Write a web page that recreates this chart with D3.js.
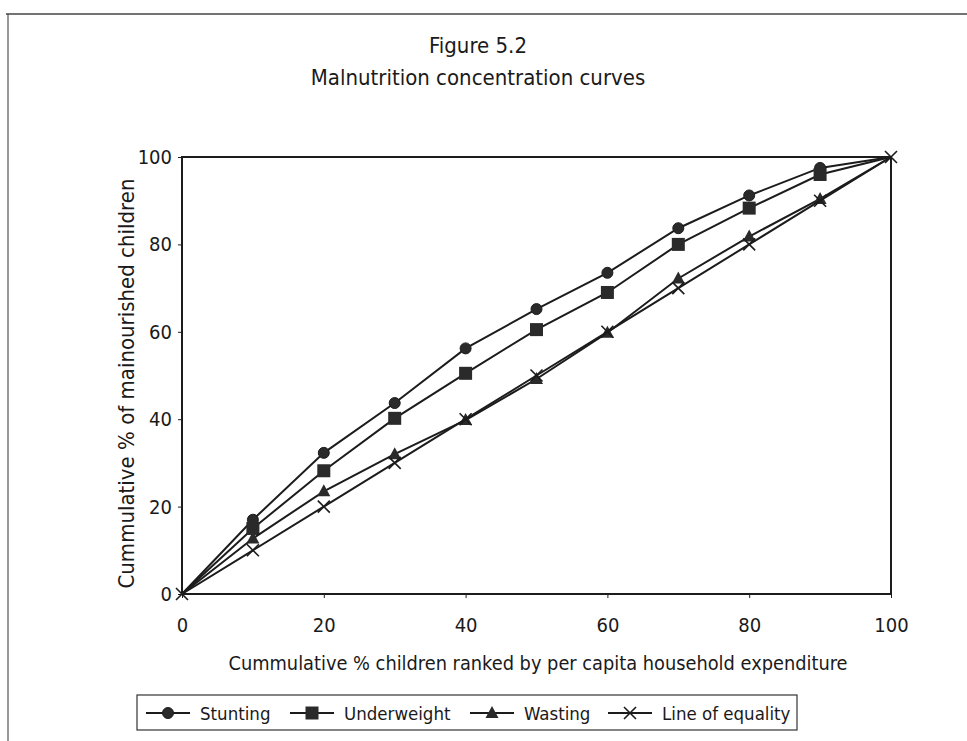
<!DOCTYPE html>
<html>
<head>
<meta charset="utf-8">
<script src="https://cdn.jsdelivr.net/npm/d3@7"></script>
<style>
  html, body { margin: 0; padding: 0; background: #fff; }
  svg { display: block; }
  text { font-family: "DejaVu Sans Condensed", "DejaVu Sans", sans-serif; fill: #1a1a1a; }
</style>
</head>
<body>
<svg id="chart" width="967" height="741"></svg>
<script>
// Cumulative % of children ranked by per capita household expenditure
const xValues = [0, 10, 20, 30, 40, 50, 60, 70, 80, 90, 100];
// Cumulative % of malnourished children
const stunting    = [0, 17, 32.3, 43.7, 56.2, 65.2, 73.5, 83.7, 91.2, 97.5, 100];
const underweight = [0, 15, 28.2, 40.2, 50.5, 60.5, 69, 80, 88.3, 96, 100];
const wasting     = [0, 12.7, 23.5, 32, 39.8, 49.2, 59.8, 72.2, 81.8, 90.4, 100];
const equality    = [0, 10, 20, 30, 40, 50, 60, 70, 80, 90, 100];

const seriesNames = ["Stunting", "Underweight", "Wasting", "Line of equality"];
const seriesSymbols = ["circle", "square", "triangle", "cross"];
const xTicks = [0, 20, 40, 60, 80, 100];
const yTicks = [0, 20, 40, 60, 80, 100];

const titleLines = ["Figure 5.2", "Malnutrition concentration curves"];
const xTitle = "Cummulative % children ranked by per capita household expenditure";
const yTitle = "Cummulative % of mainourished children";

const series = [stunting, underweight, wasting, equality].map((vals, i) => ({
  name: seriesNames[i],
  symbol: seriesSymbols[i],
  points: vals.map((v, j) => ({ x: xValues[j], y: v }))
}));

const svg = d3.select("#chart");
const ink = "#1c1c1c";

// outer frame (left and top edges)
svg.append("line").attr("x1", 8).attr("y1", 14).attr("x2", 8).attr("y2", 741)
  .attr("stroke", "#555").attr("stroke-width", 1.2);
svg.append("line").attr("x1", 6).attr("y1", 14).attr("x2", 967).attr("y2", 14)
  .attr("stroke", "#444").attr("stroke-width", 1.4);

const plot = { left: 182, right: 891, top: 157, bottom: 594 };
const x = d3.scaleLinear().domain([0, 100]).range([plot.left, plot.right]);
const y = d3.scaleLinear().domain([0, 100]).range([plot.bottom, plot.top]);

// titles
svg.append("g").selectAll("text").data(titleLines).join("text")
  .attr("x", 478).attr("y", (d, i) => 53 + i * 32)
  .attr("text-anchor", "middle").attr("font-size", 22)
  .text(d => d);

// axes
const xAxis = svg.append("g").attr("transform", `translate(0,${plot.bottom})`)
  .call(d3.axisBottom(x).tickValues(xTicks).tickSize(4).tickPadding(20).tickFormat(d3.format("d")));
const yAxis = svg.append("g").attr("transform", `translate(${plot.left},0)`)
  .call(d3.axisLeft(y).tickValues(yTicks).tickSize(4).tickPadding(6).tickFormat(d3.format("d")));
[xAxis, yAxis].forEach(g => {
  g.select(".domain").remove();
  g.selectAll(".tick line").attr("stroke", ink).attr("stroke-width", 1);
  g.selectAll(".tick text").attr("font-size", 20)
    .style("font-family", '"DejaVu Sans Condensed", "DejaVu Sans", sans-serif').attr("fill", ink);
});

// plot frame
svg.append("rect")
  .attr("x", plot.left).attr("y", plot.top)
  .attr("width", plot.right - plot.left).attr("height", plot.bottom - plot.top)
  .attr("fill", "none").attr("stroke", ink).attr("stroke-width", 2);

// axis titles
svg.append("text").attr("x", 538).attr("y", 670)
  .attr("text-anchor", "middle").attr("font-size", 19.8).text(xTitle);
svg.append("text")
  .attr("transform", `translate(134,${(plot.top + plot.bottom) / 2 + 8}) rotate(-90)`)
  .attr("text-anchor", "middle").attr("font-size", 22).text(yTitle);

// marker drawing
function drawMarker(g, symbol, cx, cy) {
  if (symbol === "circle") {
    g.append("circle").attr("cx", cx).attr("cy", cy).attr("r", 5.5)
      .attr("fill", "#2a2a2a").attr("stroke", ink).attr("stroke-width", 1);
  } else if (symbol === "square") {
    g.append("rect").attr("x", cx - 6.5).attr("y", cy - 6.5).attr("width", 13).attr("height", 13)
      .attr("fill", "#2a2a2a");
  } else if (symbol === "triangle") {
    g.append("path")
      .attr("d", `M${cx},${cy - 7}L${cx + 6.5},${cy + 5}L${cx - 6.5},${cy + 5}Z`)
      .attr("fill", "#2a2a2a");
  } else {
    g.append("path")
      .attr("d", `M${cx - 6},${cy - 6}L${cx + 6},${cy + 6}M${cx + 6},${cy - 6}L${cx - 6},${cy + 6}`)
      .attr("stroke", ink).attr("stroke-width", 1.6).attr("fill", "none");
  }
}

const line = d3.line().x(d => x(d.x)).y(d => y(d.y));

// series drawn in order, so the line of equality sits on top;
// the shared end points (0,0) and (100,100) carry only the equality cross
series.forEach(s => {
  const g = svg.append("g");
  g.append("path").attr("d", line(s.points))
    .attr("fill", "none").attr("stroke", ink).attr("stroke-width", 2);
  s.points
    .filter(p => s.symbol === "cross" || (p.x > 0 && p.x < 100))
    .forEach(p => drawMarker(g, s.symbol, x(p.x), y(p.y)));
});

// legend
const legend = svg.append("g");
legend.append("rect").attr("x", 137).attr("y", 695).attr("width", 660).attr("height", 35)
  .attr("fill", "#fff").attr("stroke", "#333").attr("stroke-width", 1.2);
const legendX = [146, 290, 470, 608];
series.forEach((s, i) => {
  const lx = legendX[i], ly = 713;
  const g = legend.append("g");
  g.append("line").attr("x1", lx).attr("x2", lx + 44).attr("y1", ly).attr("y2", ly)
    .attr("stroke", ink).attr("stroke-width", 2);
  drawMarker(g, s.symbol, lx + 22, ly);
  g.append("text").attr("x", lx + 54).attr("y", ly + 7).attr("font-size", 18.5).text(s.name);
});
</script>
</body>
</html>
